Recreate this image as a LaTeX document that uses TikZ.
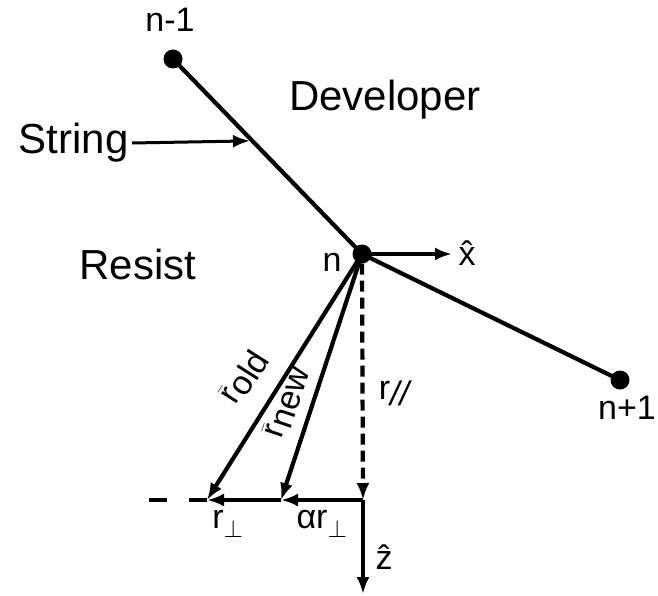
\documentclass[tikz,border=0pt]{standalone}
\usepackage{fontspec}
\setmainfont{Liberation Sans}
\usetikzlibrary{arrows.meta}

\begin{document}
\begin{tikzpicture}[
			x=1pt, y=-1pt,
			bead/.style={
				circle,
				fill,
				inner sep=0pt,
				minimum size=19pt
			},
			word/.style={
				font=\fontsize{42}{48}\selectfont
			},
			lbl/.style={
				font=\fontsize{34}{40}\selectfont,
				inner sep=0pt
			},
			vec/.style={
				-{Latex[length=17pt,width=13pt]},
				line width=4.2pt
			},
			seg/.style={
				line width=4.2pt
			}
			]
			
			\useasboundingbox (0,0) rectangle (658,596);
			
			\node (nm1) [bead] at (173,59) {};
			\node (n) [bead] at (362,254) {};
			\node (np1) [bead] at (620,380) {};
			
			\node (nm1lbl) [lbl] at (170,20) {n-1};
			\node (nlbl) [lbl] at (332,262) {n};
			\node (np1lbl) [lbl] at (627,408) {n+1};
			
			\node (dev) [word] at (385,100) {Developer};
			\node (res) [word] at (138,264) {Resist};
			\node (str) [word, anchor=east] at (132,143) {String};
			
			\coordinate (xhat) at (452,254);
			\coordinate (old) at (207,500);
			\coordinate (new) at (281,500);
			\coordinate (corner) at (363,500);
			\coordinate (zhat) at (363,594);
			\coordinate (left) at (143,500);
			
			\draw [seg] (nm1.center) -- (n.center) coordinate[pos=0.42] (onstring);
			\draw [seg] (n.center) -- (np1.center);
			\draw [vec, line width=3pt] (str.east) -- (onstring -| {(250,0)});
			
			\draw [vec] (n.center) -- (xhat);
			\draw [vec] (n.center) -- (old);
			\draw [vec] (n.center) -- (new);
			\draw [vec, dash pattern=on 11pt off 6pt] (n.south) -- (corner);
			\draw [vec] (corner) -- (new);
			\draw [vec] (new) -- (old);
			\draw [seg, dash pattern=on 18pt off 22pt] (old) -- (left);
			\draw [vec] (corner) -- (zhat);
			
			\node (xlbl) [lbl] at (467,253) {\^{x}};
			\node (zlbl) [lbl] at (384,557) {\^{z}};
			\node (rpar) [lbl] at (394,393) {r\raisebox{-6pt}{\itshape //}};
			\node (rperp) [lbl] at (228,524) {r$_\perp$};
			\node (arperp) [lbl] at (322,524) {αr$_\perp$};
			\node (rold) [lbl, rotate=57.5] at (244,377) {$\bar{\mbox{r}}$\raisebox{-5pt}{old}};
			\node (rnew) [lbl, rotate=71.4] at (286,402) {$\bar{\mbox{r}}$\raisebox{-5pt}{new}};
			
		\end{tikzpicture}
\end{document}
